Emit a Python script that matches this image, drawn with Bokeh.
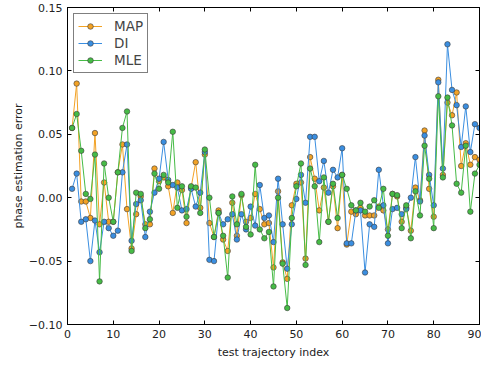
from bokeh.plotting import figure
from bokeh.models import (Legend, LegendItem, FixedTicker, LinearAxis, Range1d,
                          ColumnDataSource, CustomJSTickFormatter)
from bokeh.embed import file_html
from bokeh.resources import INLINE

idx = list(range(1, 91))

map_err = [0.055, 0.090, -0.003, -0.003, -0.016, 0.051, -0.021, 0.012, -0.019, -0.019,
           0.020, 0.042, -0.009, -0.040, -0.013, 0.001, -0.021, -0.021, 0.023, 0.013,
           0.016, 0.009, -0.012, 0.012, 0.006, -0.020, 0.008, 0.028, -0.008, 0.034,
           -0.020, -0.031, -0.010, -0.033, -0.042, -0.004, -0.030, 0.002, -0.019, -0.016,
           0.003, -0.009, -0.021, -0.020, -0.055, 0.005, -0.051, -0.064, -0.006, 0.011,
           0.012, -0.048, 0.032, 0.015, -0.010, 0.008, -0.019, 0.009, -0.024, 0.018,
           -0.037, -0.011, -0.013, -0.008, -0.014, -0.014, -0.014, -0.007, -0.010, -0.025,
           0.003, 0.001, -0.019, -0.008, -0.026, 0.008, -0.002, 0.053, 0.007, -0.015,
           0.093, 0.018, 0.075, 0.065, 0.083, 0.025, 0.043, 0.026, 0.032, 0.030]

di_err = [0.007, 0.019, -0.019, -0.017, -0.050, -0.018, -0.043, -0.019, -0.024, -0.030,
          -0.026, 0.020, 0.042, -0.034, -0.005, -0.002, -0.031, -0.011, 0.004, 0.015,
          0.044, 0.014, 0.010, 0.008, -0.010, -0.009, 0.007, -0.007, 0.004, 0.036,
          -0.049, -0.050, -0.012, -0.021, -0.017, -0.013, -0.033, -0.013, -0.025, -0.007,
          -0.022, 0.010, -0.016, -0.014, -0.035, 0.015, -0.021, -0.056, -0.021, -0.001,
          0.018, -0.004, 0.048, 0.048, 0.013, 0.029, 0.004, 0.022, 0.016, 0.039,
          -0.036, -0.036, -0.010, -0.010, -0.059, -0.021, -0.023, 0.022, -0.006, -0.036,
          -0.009, -0.008, -0.013, -0.009, 0.000, 0.032, -0.003, 0.049, 0.018, -0.006,
          0.091, 0.023, 0.121, 0.085, 0.073, 0.040, 0.072, 0.036, 0.058, 0.055]

mle_err = [0.055, 0.066, 0.037, 0.003, -0.001, 0.034, -0.066, 0.027, 0.000, -0.019,
           0.020, 0.055, 0.068, -0.042, 0.004, 0.003, -0.024, -0.017, 0.019, 0.007,
           0.018, 0.012, 0.052, -0.008, 0.009, -0.015, 0.009, 0.008, -0.012, 0.038,
           0.000, -0.031, -0.012, -0.030, -0.063, 0.001, -0.021, 0.003, -0.023, -0.029,
           0.026, -0.025, -0.032, -0.027, -0.070, 0.000, -0.052, -0.087, -0.016, 0.009,
           0.027, -0.053, 0.023, 0.009, -0.035, 0.016, -0.019, 0.011, -0.016, 0.018,
           0.007, -0.006, -0.010, -0.004, -0.011, -0.007, -0.002, -0.008, 0.007, -0.030,
           0.003, 0.002, -0.024, -0.006, -0.032, 0.005, -0.014, 0.041, 0.015, -0.024,
           0.080, 0.016, 0.079, 0.057, 0.011, 0.004, 0.041, -0.011, 0.019, 0.026]

series_names = ["MAP", "DI", "MLE"]
series_colors = ["#f2a225", "#3a8ee0", "#46bb46"]

x_ticks = [0, 10, 20, 30, 40, 50, 60, 70, 80, 90]
y_ticks = [-0.10, -0.05, 0.00, 0.05, 0.10, 0.15]
y_tick_labels = ["\u22120.10", "\u22120.05", "0.00", "0.05", "0.10", "0.15"]

FONT = "DejaVu Sans"

p = figure(frame_width=412, frame_height=317,
           x_range=Range1d(0, 90), y_range=Range1d(-0.10, 0.15),
           output_backend="svg", toolbar_location=None,
           min_border_left=67, min_border_right=2, min_border_top=7, min_border_bottom=20)
p.grid.visible = False
p.outline_line_color = "black"
p.outline_line_width = 1
p.background_fill_color = "white"
p.border_fill_color = "white"

p.xaxis.ticker = FixedTicker(ticks=x_ticks)
p.yaxis.ticker = FixedTicker(ticks=y_ticks)
p.yaxis.major_label_overrides = {v: s for v, s in zip(y_ticks, y_tick_labels)}
p.xaxis.axis_label = "test trajectory index"
p.yaxis.axis_label = "phase estimation error"

for ax in (p.xaxis[0], p.yaxis[0]):
    ax.major_tick_in = 4
    ax.major_tick_out = 0
    ax.minor_tick_line_color = None
    ax.axis_line_color = "black"
    ax.major_tick_line_color = "black"
    ax.major_label_text_font = FONT
    ax.major_label_text_font_size = "11px"
    ax.major_label_text_color = "#222222"
    ax.axis_label_text_font = FONT
    ax.axis_label_text_font_size = "11px"
    ax.axis_label_text_font_style = "normal"
    ax.axis_label_text_color = "#222222"
    ax.major_label_standoff = 5
p.xaxis.axis_label_standoff = 5
p.yaxis.axis_label_standoff = 1

blank = CustomJSTickFormatter(code="return ''")
for loc, tick in (("above", x_ticks), ("right", y_ticks)):
    ax = LinearAxis(ticker=FixedTicker(ticks=tick), major_tick_in=4, major_tick_out=0,
                    minor_tick_line_color=None, formatter=blank,
                    major_label_standoff=0, axis_line_color="black")
    p.add_layout(ax, loc)

items = []
for name, vals, color in zip(series_names, [map_err, di_err, mle_err], series_colors):
    src = ColumnDataSource(dict(x=idx, y=vals))
    ln = p.line("x", "y", source=src, line_color=color, line_width=1.0)
    sc = p.scatter("x", "y", source=src, size=5.5, fill_color=color,
                   line_color="#3a3a3a", line_width=0.6, marker="circle")
    items.append(LegendItem(label=name, renderers=[ln, sc]))

legend = Legend(items=items, location="top_left", margin=6, padding=4, spacing=1,
                label_height=14, glyph_height=14, glyph_width=24, label_standoff=12,
                label_text_font=FONT, label_text_font_size="13.5px",
                border_line_color="black", border_line_width=1,
                background_fill_color="white", background_fill_alpha=1)
p.add_layout(legend)

open("out.html", "w").write(file_html(p, INLINE))
